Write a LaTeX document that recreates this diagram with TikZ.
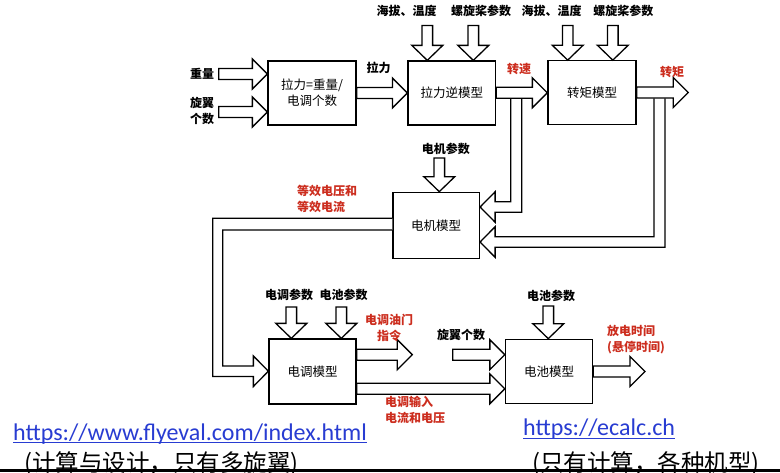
\documentclass[tikz,border=0pt]{standalone}
\usepackage{fontspec}
\newfontfamily\cjk{Noto Sans CJK SC}
\newfontfamily\urlfont{Carlito}
\usetikzlibrary{calc}
\definecolor{lblred}{RGB}{204,45,30}
\definecolor{linkblue}{RGB}{40,60,210}
\newcommand\blockR[2]{\draw[pipe] let \p1=(#1), \p2=(#2) in (\x1,\y2+5.5pt) -- (\x2-15pt,\y2+5.5pt) -- (\x2-15pt,\y2+15pt) -- (\x2,\y2) -- (\x2-15pt,\y2-15pt) -- (\x2-15pt,\y2-5.5pt) -- (\x1,\y2-5.5pt) -- cycle;}
\newcommand\blockD[2]{\draw[pipe] let \p1=(#1), \p2=(#2) in (\x2-5.3pt,\y1) -- (\x2-5.3pt,\y2+15pt) -- (\x2-15.5pt,\y2+15pt) -- (\x2,\y2) -- (\x2+15.5pt,\y2+15pt) -- (\x2+5.3pt,\y2+15pt) -- (\x2+5.3pt,\y1) -- cycle;}
\begin{document}
\begin{tikzpicture}[x=1pt,y=-1pt,
  pipe/.style={draw=black,line width=1.3pt,fill=white,line join=miter},
  model/.style={draw=black,line width=1.3pt,fill=white,inner sep=0pt,minimum height=64pt,align=center,font=\cjk\fontsize{12.5}{16}\selectfont},
  lbl/.style={inner sep=0pt,font=\cjk\bfseries\fontsize{12}{16}\selectfont,text=black},
  rlbl/.style={inner sep=0pt,font=\cjk\bfseries\fontsize{12}{16}\selectfont,text=lblred}]
\useasboundingbox (0,0) rectangle (780,472);
\clip (0,0) rectangle (780,472);
\fill[white] (0,0) rectangle (780,472);
% boxes
\node[model,minimum width=88pt] (b1) at (312,93) {拉力=重量/\\电调个数};
\node[model,minimum width=87.5pt] (b2) at (451.8,93) {拉力逆模型};
\node[model,minimum width=88pt] (b3) at (592,92.8) {转矩模型};
\node[model,minimum width=86.5pt,minimum height=66pt] (b4) at (436.2,225.3) {电机模型};
\node[model,minimum width=87pt,minimum height=65pt] (b5) at (312.5,371.5) {电调模型};
\node[model,minimum width=87pt] (b6) at (549,371.3) {电池模型};
% feed-back pipes from speed and torque
\draw[pipe] let \p1=(b4.east) in (510.7,98.3) -- (510.7,201.8) -- (\x1+15pt,201.8) -- (\x1+15pt,191.8) -- (\x1,207) -- (\x1+15pt,222.2) -- (\x1+15pt,212.2) -- (521.7,212.2) -- (521.7,98.3);
\draw[pipe] let \p1=(b4.east) in (654,98.3) -- (654,236.7) -- (\x1+15pt,236.7) -- (\x1+15pt,226.7) -- (\x1,242) -- (\x1+15pt,257.3) -- (\x1+15pt,247.3) -- (665,247.3) -- (665,98.3);
% motor to ESC pipe
\draw[pipe] let \p1=(b4.west), \p2=(b5.west) in (\x1,218.3) -- (212.7,218.3) -- (212.7,376.5) -- (\x2-15pt,376.5) -- (\x2-15pt,386.5) -- (\x2,371.2) -- (\x2-15pt,355.9) -- (\x2-15pt,365.9) -- (222.7,365.9) -- (222.7,230) -- (\x1,230);
% horizontal arrows
\coordinate (s1) at (218.7,74);
\coordinate (s2) at (218.7,112);
\blockR{s1}{b1.west |- s1}
\blockR{s2}{b1.west |- s2}
\blockR{b1.east}{b2.west}
\blockR{b2.east}{b3.west}
\coordinate (t3) at (688.3,92.5);
\blockR{b3.east}{t3}
\coordinate (t5) at (412.3,354.7);
\blockR{b5.east |- t5}{t5}
\coordinate (m56) at (400,388.8);
\blockR{b5.east |- m56}{b6.west |- m56}
\coordinate (s6) at (452.7,354.7);
\blockR{s6}{b6.west |- s6}
\coordinate (t6) at (645,371.5);
\blockR{b6.east |- t6}{t6}
% vertical arrows
\coordinate (u21) at (427.3,25.5);
\coordinate (u22) at (473.3,25.5);
\coordinate (u31) at (567.7,25.5);
\coordinate (u32) at (612.8,25.5);
\coordinate (u4) at (439.3,158);
\coordinate (u51) at (291.3,307);
\coordinate (u52) at (341.3,307);
\coordinate (u6) at (548.3,306);
\blockD{u21}{b2.north -| u21}
\blockD{u22}{b2.north -| u22}
\blockD{u31}{b3.north -| u31}
\blockD{u32}{b3.north -| u32}
\blockD{u4}{b4.north -| u4}
\blockD{u51}{b5.north -| u51}
\blockD{u52}{b5.north -| u52}
\blockD{u6}{b6.north -| u6}
% labels
\node[lbl] (l1) at (202,74) {重量};
\node[lbl,align=center] (l2) at (202,111.3) {旋翼\\个数};
\node[lbl] (l3) at (378.7,68) {拉力};
\node[lbl] (l4) at (406.7,11) {海拔、温度};
\node[lbl] (l5) at (481,11) {螺旋桨参数};
\node[lbl] (l6) at (551.7,11) {海拔、温度};
\node[lbl] (l7) at (623.3,11) {螺旋桨参数};
\node[rlbl] (l8) at (519,69) {转速};
\node[rlbl] (l9) at (672,72) {转矩};
\node[lbl] (l10) at (445.8,149) {电机参数};
\node[rlbl,align=left,anchor=west] (l11) at (297,199.3) {等效电压和\\等效电流};
\node[lbl] (l12) at (289,295) {电调参数};
\node[lbl] (l13) at (343.5,295) {电池参数};
\node[rlbl,align=center] (l14) at (389,328) {电调油门\\指令};
\node[lbl] (l15) at (461,335) {旋翼个数};
\node[lbl] (l16) at (551,296) {电池参数};
\node[rlbl,align=left,anchor=west] (l17) at (607,340) {放电时间\\(悬停时间)};
\node[rlbl,align=left,anchor=west] (l18) at (385,410) {电调输入\\电流和电压};
% links
\node[inner sep=0pt,anchor=base west,text=linkblue,font=\urlfont\fontsize{24}{28}\selectfont] (u1) at (13,440) {https://www.flyeval.com/index.html};
\draw[linkblue,line width=1.2pt] (u1.base west) ++(0,2.7) -- ($(u1.base east)+(0,2.7)$);
\node[inner sep=0pt,anchor=base west,text=linkblue,font=\urlfont\fontsize{24}{28}\selectfont] (u2) at (523,435.7) {https://ecalc.ch};
\draw[linkblue,line width=1.2pt] (u2.base west) ++(0,2.7) -- ($(u2.base east)+(0,2.7)$);
\node[inner sep=0pt,anchor=west,font=\cjk\fontsize{23.5}{28}\selectfont] (c1) at (24,464) {(计算与设计，只有多旋翼)};
\node[inner sep=0pt,anchor=west,font=\cjk\fontsize{23.5}{28}\selectfont] (c2) at (532,464) {(只有计算，各种机型)};
\fill[black] (0,469) rectangle (780,472);
\end{tikzpicture}
\end{document}
